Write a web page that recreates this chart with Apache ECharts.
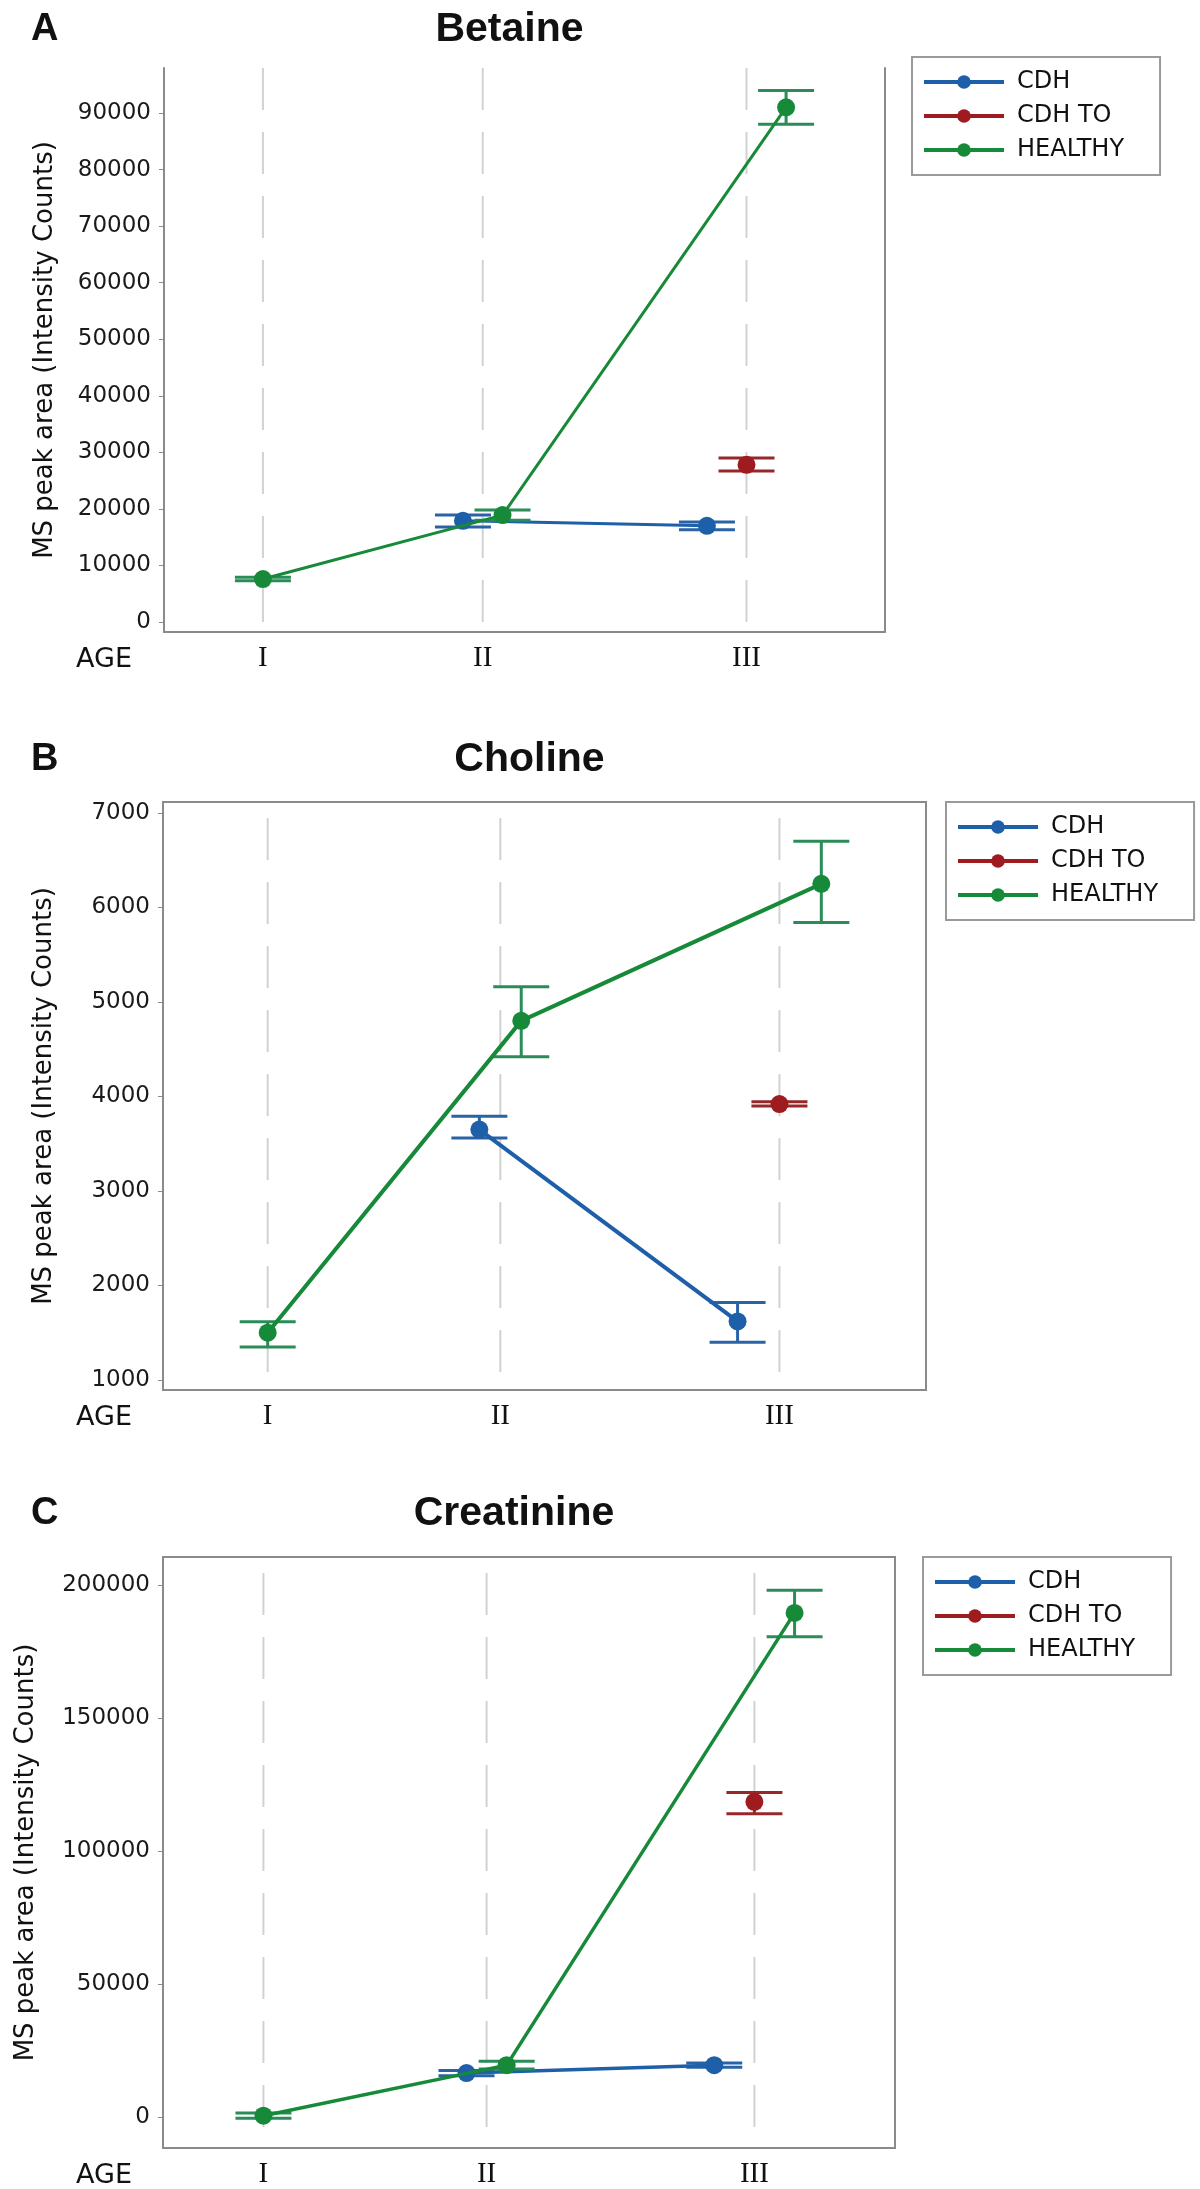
<!DOCTYPE html>
<html>
<head>
<meta charset="utf-8">
<script src="https://cdn.jsdelivr.net/npm/echarts@6/dist/echarts.min.js"></script>
<style>
  html, body { margin: 0; padding: 0; background: #fff; }
  #chart { width: 1200px; height: 2189px; }
</style>
</head>
<body>
<div id="chart"></div>
<script>
// ---------- data ----------
const ages = ['I', 'II', 'III'];
const agePos = [1, 2, 3.2];              // horizontal position of each AGE category on the x scale
const groups = ['CDH', 'CDH TO', 'HEALTHY'];

// Betaine
const betaineCDH      = [null, 17900, 17000];
const betaineCDHLo    = [null, 16800, 16300];
const betaineCDHHi    = [null, 18900, 17700];
const betaineCDHTO    = [null, null, 27800];
const betaineCDHTOLo  = [null, null, 26700];
const betaineCDHTOHi  = [null, null, 29000];
const betaineHealthy   = [7600, 18900, 91000];
const betaineHealthyLo = [7300, 18000, 88000];
const betaineHealthyHi = [7900, 19800, 94000];
const betaineTicks = [0, 10000, 20000, 30000, 40000, 50000, 60000, 70000, 80000, 90000];

// Choline
const cholineCDH      = [null, 3650, 1620];
const cholineCDHLo    = [null, 3560, 1400];
const cholineCDHHi    = [null, 3790, 1820];
const cholineCDHTO    = [null, null, 3920];
const cholineCDHTOLo  = [null, null, 3900];
const cholineCDHTOHi  = [null, null, 3945];
const cholineHealthy   = [1500, 4800, 6250];
const cholineHealthyLo = [1350, 4420, 5840];
const cholineHealthyHi = [1615, 5160, 6700];
const cholineTicks = [1000, 2000, 3000, 4000, 5000, 6000, 7000];

// Creatinine
const creatCDH      = [null, 16500, 19500];
const creatCDHLo    = [null, 15500, 18700];
const creatCDHHi    = [null, 17500, 20300];
const creatCDHTO    = [null, null, 118500];
const creatCDHTOLo  = [null, null, 114000];
const creatCDHTOHi  = [null, null, 122000];
const creatHealthy   = [500, 19500, 189500];
const creatHealthyLo = [-500, 18000, 180500];
const creatHealthyHi = [1500, 21000, 198000];
const creatTicks = [0, 50000, 100000, 150000, 200000];

// ---------- styling / layout ----------
const colors = { 'CDH': '#1d5fa8', 'CDH TO': '#9e1b1f', 'HEALTHY': '#178a3a' };
const errColors = { 'CDH': '#2a62a6', 'CDH TO': '#96282a', 'HEALTHY': '#2a8c58' };
const dodgeStep = 0.18;
const capHalf = 28;
const axisGray = '#8a8a8a';

const panels = [
  { letter: 'A', title: 'Betaine', top: 68, left: 164, width: 721, height: 564, yMin: -1768, yMax: 97957,
    ticks: betaineTicks, nameGap: 106, boxTop: false, titleY: 4, lw: 3, legend: { left: 912, top: 57 },
    vals: { 'CDH': [betaineCDH, betaineCDHLo, betaineCDHHi], 'CDH TO': [betaineCDHTO, betaineCDHTOLo, betaineCDHTOHi], 'HEALTHY': [betaineHealthy, betaineHealthyLo, betaineHealthyHi] } },
  { letter: 'B', title: 'Choline', top: 802, left: 163, width: 763, height: 588, yMin: 894, yMax: 7116,
    ticks: cholineTicks, nameGap: 106, boxTop: true, titleY: 734, lw: 4, legend: { left: 946, top: 802 },
    vals: { 'CDH': [cholineCDH, cholineCDHLo, cholineCDHHi], 'CDH TO': [cholineCDHTO, cholineCDHTOLo, cholineCDHTOHi], 'HEALTHY': [cholineHealthy, cholineHealthyLo, cholineHealthyHi] } },
  { letter: 'C', title: 'Creatinine', top: 1557, left: 163, width: 732, height: 591, yMin: -11654, yMax: 210526,
    ticks: creatTicks, nameGap: 124, boxTop: true, titleY: 1488, lw: 3.5, legend: { left: 923, top: 1557 },
    vals: { 'CDH': [creatCDH, creatCDHLo, creatCDHHi], 'CDH TO': [creatCDHTO, creatCDHTOLo, creatCDHTOHi], 'HEALTHY': [creatHealthy, creatHealthyLo, creatHealthyHi] } }
];

function dodge(panel, ageIdx, group) {
  const present = groups.filter(g => panel.vals[g][0][ageIdx] != null);
  const k = present.indexOf(group);
  return (k - (present.length - 1) / 2) * dodgeStep;
}

const grid = [], xAxis = [], yAxis = [], series = [], title = [], legend = [], graphic = [];

panels.forEach((p, pi) => {
  grid.push({ left: p.left, top: p.top, width: p.width, height: p.height,
    show: p.boxTop, borderColor: axisGray, borderWidth: 2, backgroundColor: 'transparent' });

  xAxis.push({ type: 'value', gridIndex: pi, min: 0.55, max: 3.83,
    axisLine: { show: true, onZero: false, lineStyle: { color: axisGray, width: 2 } },
    axisTick: { show: false },
    splitLine: { show: false },
    axisLabel: { customValues: agePos, margin: 12,
      formatter: v => { const i = agePos.findIndex(a => Math.abs(a - v) < 1e-6); return i >= 0 ? ages[i] : ''; },
      fontFamily: 'Liberation Serif', fontSize: 29, color: '#111' } });

  yAxis.push({ type: 'value', gridIndex: pi, min: p.yMin, max: p.yMax,
    name: 'MS peak area (Intensity Counts)', nameLocation: 'middle', nameGap: p.nameGap,
    nameTextStyle: { fontFamily: 'DejaVu Sans', fontSize: 26, color: '#111' },
    axisLine: { show: true, onZero: false, lineStyle: { color: axisGray, width: 2 } },
    axisTick: { show: true, customValues: p.ticks, length: 5, lineStyle: { color: axisGray } },
    splitLine: { show: false },
    axisLabel: { customValues: p.ticks, margin: 13, formatter: v => String(v),
      fontFamily: 'DejaVu Sans', fontSize: 23, color: '#1a1a1a' } });

  if (!p.boxTop) {
    // right frame line for panel A (no top border)
    yAxis.push({ type: 'value', gridIndex: pi, position: 'right', min: p.yMin, max: p.yMax,
      axisLine: { show: true, onZero: false, lineStyle: { color: axisGray, width: 2 } },
      axisTick: { show: false }, axisLabel: { show: false }, splitLine: { show: false } });
  }
  const yIdx = yAxis.findIndex(a => a.gridIndex === pi);

  // dashed category guides
  series.push({ type: 'custom', name: 'guides' + pi, xAxisIndex: pi, yAxisIndex: yIdx, silent: true, z: 1,
    data: agePos.map(v => [v]),
    encode: { x: 0 },
    renderItem: (params, api) => {
      const cs = params.coordSys;
      const x = api.coord([api.value(0), p.yMin])[0];
      return { type: 'line', shape: { x1: x, y1: cs.y + (p.boxTop ? 16 : 0), x2: x, y2: cs.y + cs.height },
        style: { stroke: '#d2d2d2', lineWidth: 2, lineDash: [42, 22] } };
    } });

  groups.forEach((g, gi) => {
    const [mean, lo, hi] = p.vals[g];
    const pts = [], errs = [];
    mean.forEach((v, i) => {
      if (v == null) return;
      const x = agePos[i] + dodge(p, i, g);
      pts.push([x, v]);
      errs.push([x, lo[i], hi[i]]);
    });
    series.push({ type: 'custom', name: g + ' interval ' + pi, xAxisIndex: pi, yAxisIndex: yIdx, z: 3 + gi,
      data: errs, encode: { x: 0, y: [1, 2] }, silent: true,
      renderItem: (params, api) => {
        const a = api.coord([api.value(0), api.value(1)]);
        const b = api.coord([api.value(0), api.value(2)]);
        const st = { stroke: errColors[g], lineWidth: 3 };
        return { type: 'group', children: [
          { type: 'line', shape: { x1: a[0], y1: a[1], x2: b[0], y2: b[1] }, style: st },
          { type: 'line', shape: { x1: a[0] - capHalf, y1: a[1], x2: a[0] + capHalf, y2: a[1] }, style: st },
          { type: 'line', shape: { x1: b[0] - capHalf, y1: b[1], x2: b[0] + capHalf, y2: b[1] }, style: st }
        ] };
      } });
    series.push({ type: 'line', name: g, xAxisIndex: pi, yAxisIndex: yIdx, z: 3 + gi,
      data: pts, symbol: 'circle', symbolSize: 18, showSymbol: true,
      lineStyle: { color: colors[g], width: p.lw }, itemStyle: { color: colors[g] } });
  });

  title.push({ text: p.title, left: p.left + p.width / 2 - 20, top: p.titleY, textAlign: 'center',
    textStyle: { fontFamily: 'Liberation Sans', fontWeight: 'bold', fontSize: 41, color: '#111' } });
  title.push({ text: p.letter, left: 26, top: p.titleY + 2,
    textStyle: { fontFamily: 'Liberation Sans', fontWeight: 'bold', fontSize: 38, color: '#111' } });

  legend.push({ orient: 'vertical', left: p.legend.left, top: p.legend.top, selectedMode: false,
    data: groups, padding: [13, 36, 13, 10], itemGap: 10, itemWidth: 80, itemHeight: 17,
    borderColor: '#9a9a9a', borderWidth: 2,
    lineStyle: { width: 4 },
    textStyle: { fontFamily: 'DejaVu Sans', fontSize: 24, color: '#111', padding: [0, 0, 0, 8] } });

  graphic.push({ type: 'text', left: 76, top: p.top + p.height + 14,
    style: { text: 'AGE', font: '27px "DejaVu Sans"', fill: '#111' } });
});

const chart = echarts.init(document.getElementById('chart'), null, { renderer: 'canvas' });
chart.setOption({ animation: false, backgroundColor: '#fff', grid, xAxis, yAxis, series, title, legend, graphic });
</script>
</body>
</html>
